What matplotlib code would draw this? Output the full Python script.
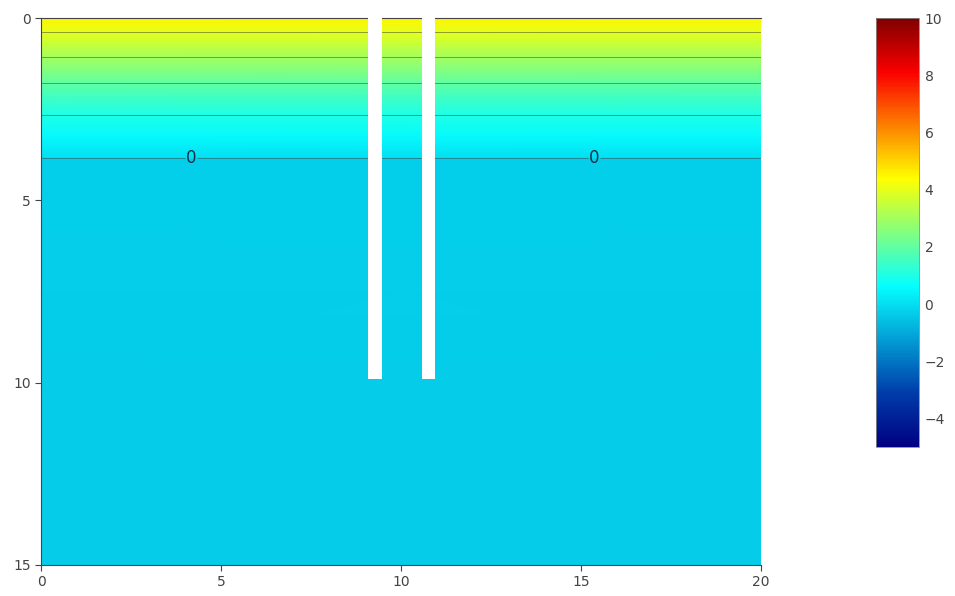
import numpy as np
import matplotlib
matplotlib.use("Agg")
import matplotlib.pyplot as plt
from matplotlib.colors import LinearSegmentedColormap, Normalize
from matplotlib.patches import Rectangle

# depth profile of the field, same at every x
x_nodes = [0.0, 20.0]
depths = [0.0, 0.38, 0.72, 1.07, 1.42, 1.78, 2.2, 2.66, 3.25, 3.83, 3.88, 5.0, 10.0, 15.0]
values = [4.5, 4.0, 3.5, 3.0, 2.5, 2.0, 1.5, 1.0, 0.55, 0.03, -0.3, -0.3, -0.35, -0.35]

contour_levels = [0, 1, 2, 3, 4]
label_spots = [(4.17, 3.84), (15.36, 3.84)]

# the two walls
wall_left = [9.09, 10.58]
wall_width = [0.37, 0.36]
wall_depth = [9.9, 9.9]

cbar_ticks = [-4, -2, 0, 2, 4, 6, 8, 10]

# plotly-style jet
jet = LinearSegmentedColormap.from_list("pjet", [
    (0.0, (0/255, 0/255, 131/255)),
    (0.125, (0/255, 60/255, 170/255)),
    (0.375, (5/255, 255/255, 255/255)),
    (0.625, (255/255, 255/255, 0/255)),
    (0.875, (250/255, 0/255, 0/255)),
    (1.0, (128/255, 0/255, 0/255)),
])
norm = Normalize(vmin=-5, vmax=10)

Z = np.array(values)[:, None] * np.ones(len(x_nodes))[None, :]

fig = plt.figure(figsize=(9.55, 5.96), dpi=100)
ax = fig.add_axes([41/955, 1 - 565/596, 720/955, 547/596])

mesh = ax.pcolormesh(x_nodes, depths, Z, cmap=jet, norm=norm, shading="gouraud")
cs = ax.contour(x_nodes, depths, Z, levels=contour_levels, colors="#3a3a3a",
                linewidths=0.7, alpha=0.5)
lbl = ax.clabel(cs, levels=[0], manual=label_spots, inline=True, inline_spacing=1,
                fmt="%d", fontsize=12)
for t in lbl:
    t.set_color("#1b2f4e")
    t.set_alpha(1)

for x0, w, d in zip(wall_left, wall_width, wall_depth):
    ax.add_patch(Rectangle((x0, -0.1), w, d + 0.1, facecolor="white",
                           edgecolor="none", zorder=5, clip_on=False))

ax.set_xlim(0, 20)
ax.set_ylim(15, 0)
ax.set_xticks([0, 5, 10, 15, 20])
ax.set_yticks([0, 5, 10, 15])
ax.tick_params(colors="#444444", labelsize=10, length=4, width=0.8)
for s in ["left", "bottom", "top"]:
    ax.spines[s].set_color("#444444")
    ax.spines[s].set_linewidth(0.8)
ax.spines["right"].set_visible(False)

cax = fig.add_axes([876/955, 1 - 447/596, 43/955, 429/596])
cb = fig.colorbar(mesh, cax=cax, ticks=cbar_ticks)
cb.outline.set_edgecolor("#888888")
cb.outline.set_linewidth(0.6)
cax.tick_params(length=0, colors="#444444", labelsize=10, pad=4)

fig.savefig("out.png", dpi=100)
